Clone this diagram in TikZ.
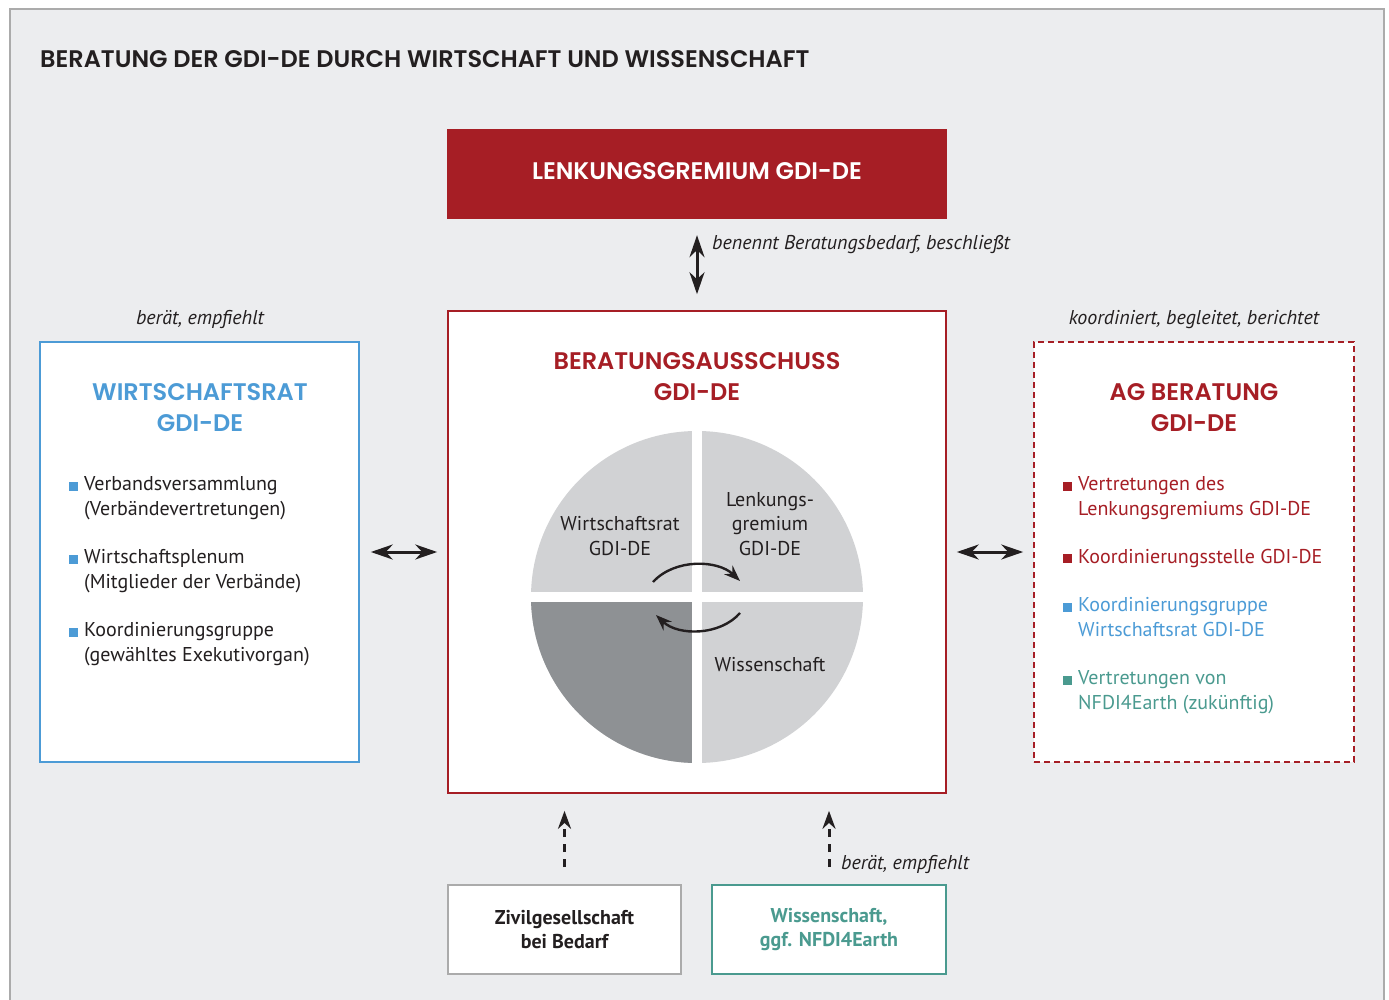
\documentclass[tikz,border=0pt]{standalone}
\usepackage{fontspec}
\setmainfont{PT Sans}
\newfontfamily\headfont{Poppins SemiBold}
\usetikzlibrary{arrows.meta}
\definecolor{gdired}{HTML}{A61E25}
\definecolor{gdiblue}{HTML}{4C9BD6}
\definecolor{gditeal}{HTML}{4A9A8F}
\definecolor{bggray}{HTML}{ECEDEF}
\definecolor{framegray}{HTML}{ABABAB}
\definecolor{txt}{HTML}{231F20}
\definecolor{lgray}{HTML}{D1D2D4}
\definecolor{dgray}{HTML}{8E9194}
\newcommand\bsq[1]{\textcolor{#1}{\rule{9pt}{9pt}}\hspace{6pt}}
\tikzset{
  body/.style={font=\fontsize{20}{24.5}\selectfont, text=txt, inner sep=0pt},
  lbl/.style={font=\fontsize{20}{24}\selectfont\itshape, text=txt, inner sep=0pt},
  head/.style={font=\headfont\fontsize{24}{31}\selectfont, inner sep=0pt, align=center},
  framebox/.style={draw, line width=1.6pt, fill=white, inner sep=0pt},
  dbl/.style={{Stealth[length=22pt,width=15pt]}-{Stealth[length=22pt,width=15pt]}, line width=3pt, draw=txt},
  upd/.style={-{Stealth[length=18pt,width=13pt]}, line width=3pt, draw=txt, dash pattern=on 8pt off 7pt},
  circarrow/.style={-{Stealth[length=16pt,width=12pt]}, line width=2.4pt, draw=txt},
}
\begin{document}
\begin{tikzpicture}[x=1pt,y=-1pt]
\useasboundingbox (0,0) rectangle (1389,1000);
\fill[white] (0,0) rectangle (1389,1000);
\draw[framegray, fill=bggray, line width=2pt] (10,9) rectangle (1384,1012);

% title
\node[head, anchor=base west, text=txt] (title) at (40,68) {BERATUNG DER GDI-DE DURCH WIRTSCHAFT UND WISSENSCHAFT};

% Lenkungsgremium
\node[fill=gdired, minimum width=500pt, minimum height=90pt, inner sep=0pt] (lg) at (697,174) {};
\node[head, text=white, anchor=base] (lgt) at (697,179.5) {LENKUNGSGREMIUM GDI-DE};

% Beratungsausschuss
\node[framebox, draw=gdired, minimum width=498pt, minimum height=482pt] (ba) at (697,552) {};
\node[head, text=gdired, anchor=base] (bat) at (697,400) {BERATUNGSAUSSCHUSS\\GDI-DE};

% circle
\fill[lgray] (697,597) circle[radius=166];
\fill[dgray] (697,597) -- (531,597) arc[start angle=180, end angle=90, radius=166] -- cycle;
\draw[white, line width=10pt] (697,425) -- (697,769);
\draw[white, line width=10pt] (525,597) -- (869,597);
\node[body, align=center, anchor=base] (cw) at (620,555) {Wirtschaftsrat\\GDI-DE};
\node[body, align=center, anchor=base] (cl) at (770,555) {Lenkungs-\\gremium\\GDI-DE};
\node[body, align=center, anchor=base] (cs) at (770,671) {Wissenschaft};
\draw[circarrow] (653,582) .. controls (675,558) and (718,560) .. (740,581);
\draw[circarrow] (740,613) .. controls (720,636) and (678,636) .. (656,615);

% Wirtschaftsrat box
\node[framebox, draw=gdiblue, minimum width=319pt, minimum height=420pt] (wr) at (199.5,552) {};
\node[head, text=gdiblue, anchor=base] (wrt) at (200,431) {WIRTSCHAFTSRAT\\GDI-DE};
\node[body, anchor=base west, align=left] (w1) at (69,515) {\bsq{gdiblue}Verbandsversammlung\\\hspace{15pt}(Verbändevertretungen)};
\node[body, anchor=base west, align=left] (w2) at (69,588) {\bsq{gdiblue}Wirtschaftsplenum\\\hspace{15pt}(Mitglieder der Verbände)};
\node[body, anchor=base west, align=left] (w3) at (69,661) {\bsq{gdiblue}Koordinierungsgruppe\\\hspace{15pt}(gewähltes Exekutivorgan)};
\node[lbl, anchor=base] (wrl) at (200,324) {berät, empfiehlt};

% AG Beratung box
\node[framebox, draw=gdired, dash pattern=on 6pt off 4pt, minimum width=320pt, minimum height=420pt] (ag) at (1194,552) {};
\node[head, text=gdired, anchor=base] (agt) at (1194,431) {AG BERATUNG\\GDI-DE};
\node[body, text=gdired, anchor=base west, align=left] (a1) at (1063,515) {\bsq{gdired}Vertretungen des\\\hspace{15pt}Lenkungsgremiums GDI-DE};
\node[body, text=gdired, anchor=base west, align=left] (a2) at (1063,563) {\bsq{gdired}Koordinierungsstelle GDI-DE};
\node[body, text=gdiblue, anchor=base west, align=left] (a3) at (1063,636) {\bsq{gdiblue}Koordinierungsgruppe\\\hspace{15pt}Wirtschaftsrat GDI-DE};
\node[body, text=gditeal, anchor=base west, align=left] (a4) at (1063,709) {\bsq{gditeal}Vertretungen von\\\hspace{15pt}NFDI4Earth (zukünftig)};
\node[lbl, anchor=base] (agl) at (1194,324) {koordiniert, begleitet, berichtet};

% bottom boxes
\node[framebox, draw=framegray, minimum width=233pt, minimum height=89pt, font=\bfseries\fontsize{20}{24}\selectfont, text=txt, align=center] (zg) at (564.5,929.5) {Zivilgesellschaft\\bei Bedarf};
\node[framebox, draw=gditeal, minimum width=234pt, minimum height=89pt, font=\bfseries\fontsize{20}{24}\selectfont, text=gditeal, align=center] (ws) at (829,929.5) {Wissenschaft,\\ggf. NFDI4Earth};

% connectors
\draw[dbl] ([yshift=-16pt]lg.south) -- ([yshift=16pt]ba.north);
\node[lbl, anchor=base west] (lgl) at (712,250) {benennt Beratungsbedarf, beschließt};
\draw[dbl] ([xshift=11pt]wr.east) -- ([xshift=-10pt]ba.west);
\draw[dbl] ([xshift=-10pt]ag.west) -- ([xshift=10pt]ba.east);
\draw[upd] ([yshift=17pt]zg.north) -- ([yshift=-17pt]zg.north |- ba.south);
\draw[upd] ([yshift=17pt]ws.north) -- ([yshift=-17pt]ws.north |- ba.south);
\node[lbl, anchor=base west] (wsl) at (841,869) {berät, empfiehlt};
\end{tikzpicture}
\end{document}
